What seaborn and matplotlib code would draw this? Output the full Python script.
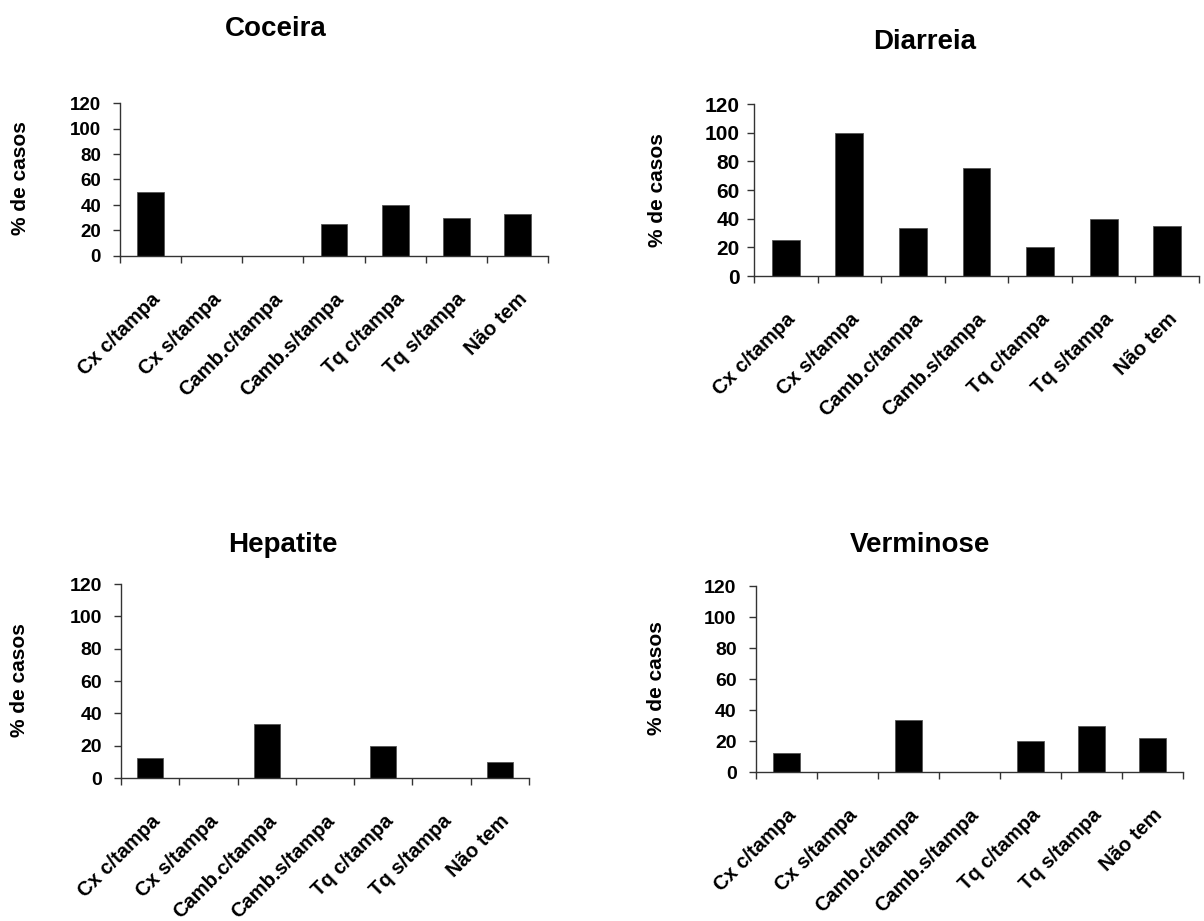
import matplotlib
matplotlib.use("Agg")
import matplotlib.pyplot as plt
from matplotlib.transforms import ScaledTranslation
import seaborn as sns
import pandas as pd
import numpy as np

# Destino do lixo e % de casos por doença
categorias = ["Cx c/tampa", "Cx s/tampa", "Camb.c/tampa", "Camb.s/tampa",
              "Tq c/tampa", "Tq s/tampa", "Não tem"]
coceira = [50, 0, 0, 25, 40, 30, 33]
diarreia = [25, 100, 33.3, 75, 20, 40, 35]
hepatite = [12.5, 0, 33.3, 0, 20, 0, 10]
verminose = [12.5, 0, 33.3, 0, 20, 30, 22]

titulos = ["Coceira", "Diarreia", "Hepatite", "Verminose"]
series = [coceira, diarreia, hepatite, verminose]
yticks = [0, 20, 40, 60, 80, 100, 120]

sns.set_theme(style="white")
plt.rcParams["font.family"] = ["Liberation Sans", "DejaVu Sans"]

W, H = 1204, 921
DPI = 100
fig = plt.figure(figsize=(W / DPI, H / DPI), dpi=DPI)

# panel boxes in pixels: left, right, top (y=120), bottom (y=0)
caixas = [(120, 548, 103, 256),
          (754, 1199, 104, 276),
          (121, 529, 584, 778),
          (756, 1183, 586, 772)]
pos_titulo = [(276, 29), (925, 42), (283, 545), (920, 545)]
pos_ylabel = [(21, 178), (657, 190), (20, 680), (656, 678)]
tam_ytick = [13.5, 15, 14, 14]
pad_ytick = [8.6, 5.5, 8.6, 9.0]

for titulo, valores, (l, r, t, b), (tx, ty), (lx, ly), fs, py in zip(
        titulos, series, caixas, pos_titulo, pos_ylabel, tam_ytick, pad_ytick):
    ax = fig.add_axes([l / W, 1 - b / H, (r - l) / W, (b - t) / H])
    df = pd.DataFrame({"categoria": categorias, "pct": valores})
    sns.barplot(data=df, x="categoria", y="pct", order=categorias,
                color="black", saturation=1, width=0.44,
                edgecolor="#555555", linewidth=0.6, ax=ax)
    ax.set_xlim(-0.5, len(categorias) - 0.5)
    ax.set_ylim(0, 120)
    ax.set_yticks(yticks)
    ax.set_yticklabels([str(v) for v in yticks], fontsize=fs,
                       fontweight="bold", color="black")
    ax.set_xticks(range(len(categorias)))
    ax.set_xticklabels(categorias, rotation=45, ha="right", va="top",
                       rotation_mode="anchor", fontsize=14.5,
                       fontweight="bold", color="black")
    # rotated labels end a little left of each category centre
    desloc = ScaledTranslation(-18 / DPI, 0, fig.dpi_scale_trans)
    for rot in ax.get_xticklabels():
        rot.set_transform(rot.get_transform() + desloc)
    ax.set_xticks(np.arange(-0.5, len(categorias)), minor=True)
    ax.tick_params(axis="x", which="major", length=0, pad=24)
    ax.tick_params(axis="x", which="minor", direction="out", length=5,
                   width=1, color="#333333", bottom=True)
    ax.tick_params(axis="y", direction="out", length=5, width=1,
                   color="#333333", left=True, pad=py)
    ax.set_xlabel("")
    ax.set_ylabel("")
    for lado in ("top", "right"):
        ax.spines[lado].set_visible(False)
    for lado in ("left", "bottom"):
        ax.spines[lado].set_color("#333333")
        ax.spines[lado].set_linewidth(1.0)
    fig.text(tx / W, 1 - ty / H, titulo, ha="center", va="center",
             fontsize=20, fontweight="bold", color="black")
    fig.text(lx / W, 1 - ly / H, "% de casos", ha="center", va="center",
             rotation=90, fontsize=15, fontweight="bold", color="black")

fig.savefig("out.png", dpi=DPI, facecolor="white")
